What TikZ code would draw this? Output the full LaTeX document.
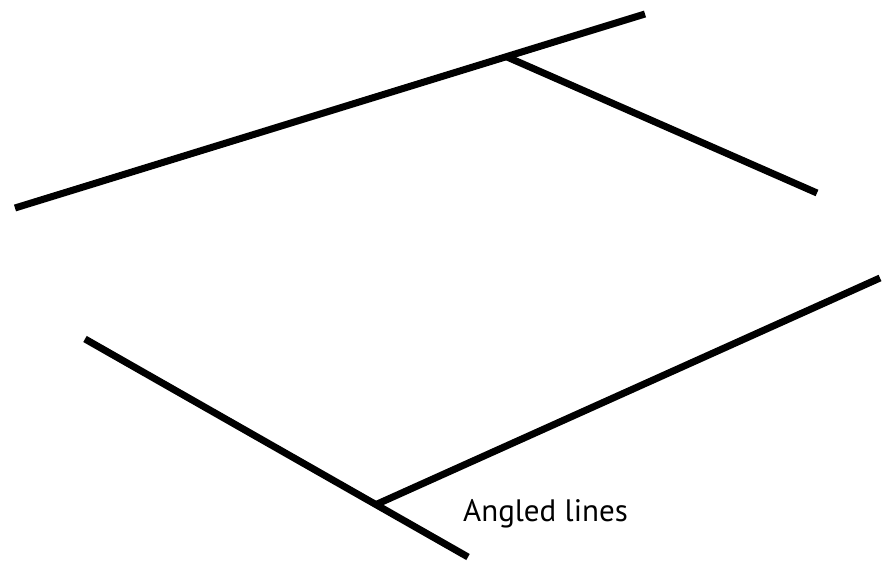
\documentclass[tikz,border=0pt]{standalone}
\usepackage{fontspec}
\setmainfont{PT Sans}
\begin{document}
\begin{tikzpicture}[x=1pt,y=1pt,
  bar/.style={line width=7pt, line cap=butt, black},
  lbl/.style={anchor=base west, inner sep=0pt, font=\fontsize{31}{36}\selectfont}]
\useasboundingbox (0,0) rectangle (882,564);
% upper pair
\coordinate (a1) at (15,356);
\coordinate (a2) at (645,550);
\coordinate (b1) at (507,507);
\coordinate (b2) at (817,371);
% lower pair
\coordinate (c1) at (85,225);
\coordinate (c2) at (468,7);
\coordinate (d1) at (375,59);
\coordinate (d2) at (880,286);
\draw[bar] (a1) -- (a2);
\draw[bar] (b1) -- (b2);
\draw[bar] (c1) -- (c2);
\draw[bar] (d1) -- (d2);
\node[lbl] (t) at (463,42) {Angled lines};
\end{tikzpicture}
\end{document}
